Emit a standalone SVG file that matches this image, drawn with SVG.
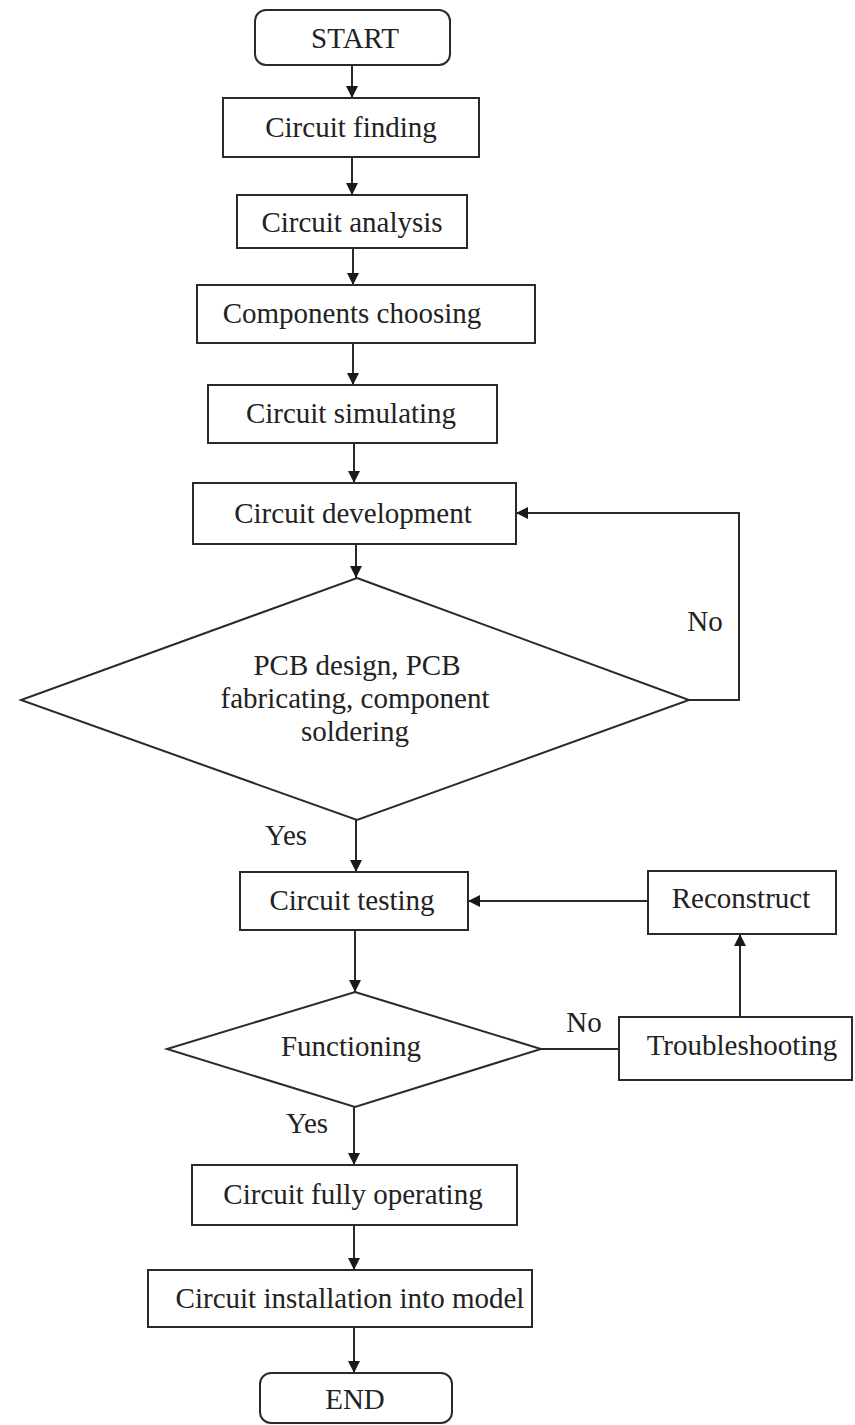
<svg xmlns="http://www.w3.org/2000/svg" width="855" height="1425" viewBox="0 0 855 1425">
<style>
.box{fill:#fff;stroke:#2a2a2a;stroke-width:2}
.t{font-family:"Liberation Serif","Times New Roman",serif;font-size:29px;fill:#222;text-anchor:middle}
.c{fill:none;stroke:#2a2a2a;stroke-width:2}
</style>
<defs>
<marker id="ah" viewBox="0 0 12 12" refX="12" refY="6" markerWidth="12" markerHeight="12" markerUnits="userSpaceOnUse" orient="auto">
<path d="M0,0 L12,6 L0,12 Z" fill="#1a1a1a"/>
</marker>
</defs>
<rect width="855" height="1425" fill="#fff"/>
<g id="connectors">
<line class="c" x1="352" y1="65" x2="352" y2="98" marker-end="url(#ah)"/>
<line class="c" x1="352" y1="157" x2="352" y2="195" marker-end="url(#ah)"/>
<line class="c" x1="353" y1="248" x2="353" y2="285" marker-end="url(#ah)"/>
<line class="c" x1="353" y1="343" x2="353" y2="385" marker-end="url(#ah)"/>
<line class="c" x1="354" y1="443" x2="354" y2="483" marker-end="url(#ah)"/>
<line class="c" x1="356" y1="544" x2="356" y2="578" marker-end="url(#ah)"/>
<polyline class="c" points="689,700 739,700 739,513 516,513" marker-end="url(#ah)"/>
<line class="c" x1="356" y1="820" x2="356" y2="872" marker-end="url(#ah)"/>
<line class="c" x1="648" y1="901" x2="468" y2="901" marker-end="url(#ah)"/>
<line class="c" x1="355" y1="930" x2="355" y2="992" marker-end="url(#ah)"/>
<line class="c" x1="541" y1="1049" x2="619" y2="1049"/>
<line class="c" x1="740" y1="1017" x2="740" y2="934" marker-end="url(#ah)"/>
<line class="c" x1="354" y1="1107" x2="354" y2="1165" marker-end="url(#ah)"/>
<line class="c" x1="354" y1="1225" x2="354" y2="1270" marker-end="url(#ah)"/>
<line class="c" x1="354" y1="1327" x2="354" y2="1373" marker-end="url(#ah)"/>
<text class="t" x="705" y="631">No</text>
<text class="t" x="286" y="845">Yes</text>
<text class="t" x="584" y="1032">No</text>
<text class="t" x="307" y="1133">Yes</text>
</g>
<g id="start"><rect class="box" x="255" y="10" width="195" height="55" rx="11"/><text class="t" x="355" y="48">START</text></g>
<g id="finding"><rect class="box" x="223" y="98" width="256" height="59"/><text class="t" x="351" y="137">Circuit finding</text></g>
<g id="analysis"><rect class="box" x="237" y="195" width="230" height="53"/><text class="t" x="352" y="232">Circuit analysis</text></g>
<g id="components"><rect class="box" x="197" y="285" width="338" height="58"/><text class="t" x="352" y="323">Components  choosing</text></g>
<g id="simulating"><rect class="box" x="208" y="385" width="289" height="58"/><text class="t" x="351" y="423">Circuit simulating</text></g>
<g id="development"><rect class="box" x="193" y="483" width="323" height="61"/><text class="t" x="353" y="523">Circuit development</text></g>
<g id="pcb"><polygon class="box" points="357,578 689,700 357,820 21,700"/>
<text class="t" x="357" y="675">PCB  design, PCB</text>
<text class="t" x="355" y="708">fabricating, component</text>
<text class="t" x="355" y="741">soldering</text></g>
<g id="testing"><rect class="box" x="240" y="872" width="228" height="58"/><text class="t" x="352" y="910">Circuit testing</text></g>
<g id="reconstruct"><rect class="box" x="648" y="871" width="188" height="63"/><text class="t" x="741" y="908">Reconstruct</text></g>
<g id="functioning"><polygon class="box" points="355,992 541,1049 355,1107 167,1049"/><text class="t" x="351" y="1056">Functioning</text></g>
<g id="troubleshooting"><rect class="box" x="619" y="1017" width="233" height="63"/><text class="t" x="742" y="1055">Troubleshooting</text></g>
<g id="fully"><rect class="box" x="192" y="1165" width="325" height="60"/><text class="t" x="353" y="1204">Circuit fully operating</text></g>
<g id="installation"><rect class="box" x="148" y="1270" width="384" height="57"/><text class="t" x="350" y="1308">Circuit installation  into model</text></g>
<g id="end"><rect class="box" x="260" y="1373" width="192" height="50" rx="11"/><text class="t" x="355" y="1409">END</text></g>
</svg>
